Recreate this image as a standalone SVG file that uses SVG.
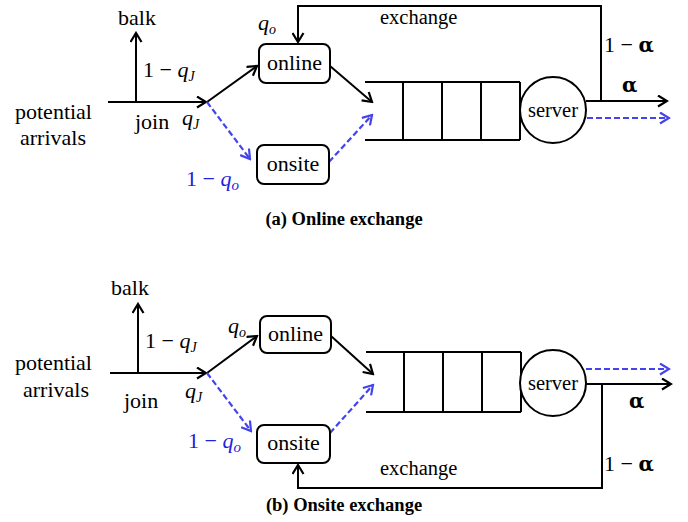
<svg xmlns="http://www.w3.org/2000/svg" width="688" height="522" viewBox="0 0 688 522">
<style>
text{font-family:'Liberation Serif','Times New Roman',serif}
.t{font-size:22px;fill:#000}
.ex{font-size:20.5px}
.sv{font-size:20.5px}
.m{font-size:22px;fill:#000}
.b{fill:#2222dd}
.cap{font-size:18.5px;font-weight:bold;fill:#000}
.al{font-family:'DejaVu Serif',serif;font-size:20px;font-weight:bold;fill:#000}
.ln{stroke:#000;stroke-width:2;fill:none}
.ds{stroke:#4444ee;stroke-width:2.2;fill:none;stroke-dasharray:6 3}
.box{fill:#fff;stroke:#000;stroke-width:2}
</style>
<defs>
<marker id="ah" markerWidth="13" markerHeight="13" refX="11" refY="6.5" orient="auto" markerUnits="userSpaceOnUse"><path d="M2,1 L11,6.5 L2,12" fill="none" stroke="#000" stroke-width="2.2"/></marker>
<marker id="ab" markerWidth="13" markerHeight="13" refX="11" refY="6.5" orient="auto" markerUnits="userSpaceOnUse"><path d="M2,1 L11,6.5 L2,12" fill="none" stroke="#4444ee" stroke-width="2.2"/></marker>
</defs>

<!-- Panel (a) -->
<g id="connectors-a">
<path class="ln" d="M108,102 H206" marker-end="url(#ah)"/>
<path class="ln" d="M136,102 V33" marker-end="url(#ah)"/>
<path class="ln" d="M207,102 L257,66" marker-end="url(#ah)"/>
<path class="ds" d="M207,102 L250,159" marker-end="url(#ab)"/>
<path class="ln" d="M330,66 L372,102" marker-end="url(#ah)"/>
<path class="ds" d="M329,162 L372,115" marker-end="url(#ab)"/>
<path class="ln" d="M586,101 H667" marker-end="url(#ah)"/>
<path class="ds" d="M587,118 H669" marker-end="url(#ab)"/>
<path class="ln" d="M601,101 V6 H298 V42" marker-end="url(#ah)"/>
</g>
<g id="online-a"><rect class="box" x="259" y="44" width="71" height="39" rx="7"/><text class="t" x="294.5" y="70" text-anchor="middle">online</text></g>
<g id="onsite-a"><rect class="box" x="257" y="145" width="72" height="39" rx="7"/><text class="t" x="293" y="171" text-anchor="middle">onsite</text></g>
<g id="queue-a">
<path class="ln" d="M365,82 H520 M365,140 H520 M403,82 V140 M442,82 V140 M481,82 V140 M520,82 V140"/>
</g>
<g id="server-a"><circle class="box" cx="553" cy="110" r="33"/><text class="t sv" x="553" y="117" text-anchor="middle">server</text></g>
<g id="labels-a">
<text class="t" x="118" y="25">balk</text>
<text class="m" x="143" y="77">1 − <tspan font-style="italic">q</tspan><tspan font-style="italic" font-size="14" dy="4">J</tspan></text>
<text class="t" x="15" y="119">potential</text>
<text class="t" x="20" y="145">arrivals</text>
<text class="t" x="135" y="129">join</text>
<text class="m" x="182" y="125"><tspan font-style="italic">q</tspan><tspan font-style="italic" font-size="14" dy="4">J</tspan></text>
<text class="m" x="258" y="30"><tspan font-style="italic">q</tspan><tspan font-style="italic" font-size="14" dy="4">o</tspan></text>
<text class="m b" x="186" y="186">1 − <tspan font-style="italic">q</tspan><tspan font-style="italic" font-size="15" dy="4">o</tspan></text>
<text class="t ex" x="380" y="24">exchange</text>
<text class="m" x="604" y="52">1 − <tspan class="al">α</tspan></text>
<text class="al" x="622" y="92">α</text>
<text class="cap" x="344" y="225" text-anchor="middle">(a) Online exchange</text>
</g>

<!-- Panel (b) -->
<g id="connectors-b">
<path class="ln" d="M110,373 H206" marker-end="url(#ah)"/>
<path class="ln" d="M138,373 V304" marker-end="url(#ah)"/>
<path class="ln" d="M207,373 L257,336" marker-end="url(#ah)"/>
<path class="ds" d="M207,373 L251,431" marker-end="url(#ab)"/>
<path class="ln" d="M331,336 L373,374" marker-end="url(#ah)"/>
<path class="ds" d="M330,433 L373,385" marker-end="url(#ab)"/>
<path class="ln" d="M586,384 H671" marker-end="url(#ah)"/>
<path class="ds" d="M586,369 H669" marker-end="url(#ab)"/>
<path class="ln" d="M602,384 V488 H298 V465" marker-end="url(#ah)"/>
</g>
<g id="online-b"><rect class="box" x="260" y="316" width="71" height="37" rx="7"/><text class="t" x="295.5" y="341" text-anchor="middle">online</text></g>
<g id="onsite-b"><rect class="box" x="257" y="425" width="73" height="38" rx="7"/><text class="t" x="293.5" y="450" text-anchor="middle">onsite</text></g>
<g id="queue-b">
<path class="ln" d="M366,352 H521 M366,412 H521 M404,352 V412 M443,352 V412 M482,352 V412 M521,352 V412"/>
</g>
<g id="server-b"><circle class="box" cx="553" cy="383" r="33"/><text class="t sv" x="553" y="390" text-anchor="middle">server</text></g>
<g id="labels-b">
<text class="t" x="111" y="295">balk</text>
<text class="m" x="145" y="348">1 − <tspan font-style="italic">q</tspan><tspan font-style="italic" font-size="14" dy="4">J</tspan></text>
<text class="t" x="15" y="370">potential</text>
<text class="t" x="23" y="397">arrivals</text>
<text class="t" x="124" y="408">join</text>
<text class="m" x="185" y="398"><tspan font-style="italic">q</tspan><tspan font-style="italic" font-size="14" dy="4">J</tspan></text>
<text class="m" x="228" y="333"><tspan font-style="italic">q</tspan><tspan font-style="italic" font-size="14" dy="4">o</tspan></text>
<text class="m b" x="188" y="448">1 − <tspan font-style="italic">q</tspan><tspan font-style="italic" font-size="15" dy="4">o</tspan></text>
<text class="t ex" x="380" y="475">exchange</text>
<text class="m" x="604" y="471">1 − <tspan class="al">α</tspan></text>
<text class="al" x="629" y="408">α</text>
<text class="cap" x="344" y="511" text-anchor="middle">(b) Onsite exchange</text>
</g>
</svg>
